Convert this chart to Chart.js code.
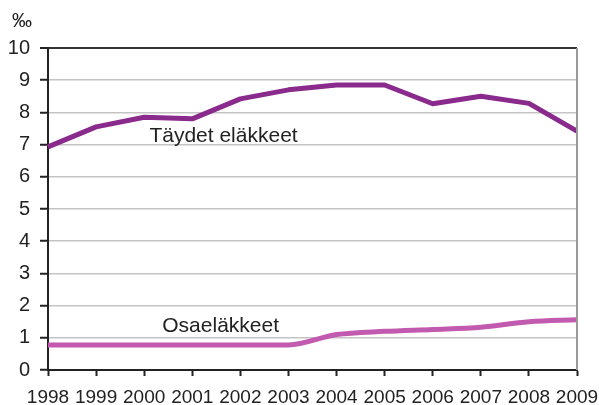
<!DOCTYPE html>
<html>
<head>
<meta charset="utf-8">
<script src="https://cdn.jsdelivr.net/npm/chart.js@4"></script>
<style>
  html, body { margin: 0; padding: 0; background: #fff; }
  #wrap { width: 599px; height: 405px; }
</style>
</head>
<body>
<div id="wrap"><canvas id="chart" width="599" height="405"></canvas></div>
<script>
// Data (per mille)
const years = ['1998', '1999', '2000', '2001', '2002', '2003', '2004', '2005', '2006', '2007', '2008', '2009'];
const taydet = [6.93, 7.55, 7.85, 7.8, 8.42, 8.7, 8.85, 8.85, 8.27, 8.5, 8.28, 7.42];
const osa = [0.78, 0.78, 0.78, 0.78, 0.78, 0.78, 1.1, 1.2, 1.26, 1.33, 1.5, 1.56];
const yTicks = [0, 1, 2, 3, 4, 5, 6, 7, 8, 9, 10];

const FONT = '"Liberation Sans", Arial, sans-serif';

// Text labels on the plot, placed in data units
const seriesLabels = [
    { text: 'Täydet eläkkeet', x: 3.65, y: 7.08 },
    { text: 'Osaeläkkeet', x: 3.59, y: 1.18 }
];

const labelPlugin = {
    id: 'labels',
    afterDraw(chart) {
        const { ctx, chartArea, scales } = chart;
        ctx.save();

        // right frame line
        ctx.strokeStyle = '#9a9a9a';
        ctx.lineWidth = 2;
        ctx.beginPath();
        ctx.moveTo(chartArea.right, chartArea.top);
        ctx.lineTo(chartArea.right, chartArea.bottom);
        ctx.stroke();

        ctx.fillStyle = '#222';
        ctx.font = '21px ' + FONT;
        ctx.textAlign = 'center';
        ctx.textBaseline = 'alphabetic';
        seriesLabels.forEach(l => {
            ctx.fillText(l.text, scales.x.getPixelForValue(l.x), scales.y.getPixelForValue(l.y));
        });

        // unit
        ctx.font = '20px ' + FONT;
        ctx.textBaseline = 'middle';
        ctx.fillText('‰', 22, 21);
        ctx.restore();
    }
};

new Chart(document.getElementById('chart'), {
    type: 'line',
    data: {
        labels: years,
        datasets: [
            {
                label: 'Täydet eläkkeet',
                data: taydet,
                borderColor: '#8a2a8c',
                borderWidth: 5,
                pointRadius: 0,
                tension: 0,
                borderJoinStyle: 'round'
            },
            {
                label: 'Osaeläkkeet',
                data: osa,
                borderColor: '#c25bb0',
                borderWidth: 5,
                pointRadius: 0,
                cubicInterpolationMode: 'monotone',
                borderJoinStyle: 'round'
            }
        ]
    },
    options: {
        responsive: false,
        animation: false,
        layout: { padding: { left: 0, top: 48, right: 22, bottom: 0 } },
        plugins: {
            legend: { display: false },
            tooltip: { enabled: false }
        },
        scales: {
            x: {
                type: 'category',
                offset: false,
                afterFit: s => {
                    s.height = 35;
                    s.paddingLeft = 0;
                    s.paddingRight = 0;
                },
                grid: {
                    drawOnChartArea: false,
                    drawTicks: true,
                    tickLength: 6,
                    tickColor: '#222',
                    tickWidth: 2
                },
                border: { color: '#222', width: 2 },
                ticks: {
                    color: '#222',
                    font: { family: FONT, size: 19 },
                    padding: 10,
                    maxRotation: 0,
                    autoSkip: false
                }
            },
            y: {
                min: 0,
                max: 10,
                afterFit: s => {
                    s.width = 48;
                    s.paddingTop = 0;
                    s.paddingBottom = 0;
                },
                afterBuildTicks: s => { s.ticks = yTicks.map(v => ({ value: v })); },
                grid: {
                    color: c => c.tick && c.tick.value === 10 ? '#333' : '#c4c4c4',
                    lineWidth: c => c.tick && c.tick.value === 10 ? 2 : 1.5,
                    tickLength: 8,
                    tickColor: '#222',
                    tickWidth: 2
                },
                border: { color: '#222', width: 2 },
                ticks: {
                    color: '#222',
                    font: { family: FONT, size: 20 },
                    padding: 10
                }
            }
        }
    },
    plugins: [labelPlugin]
});
</script>
</body>
</html>
